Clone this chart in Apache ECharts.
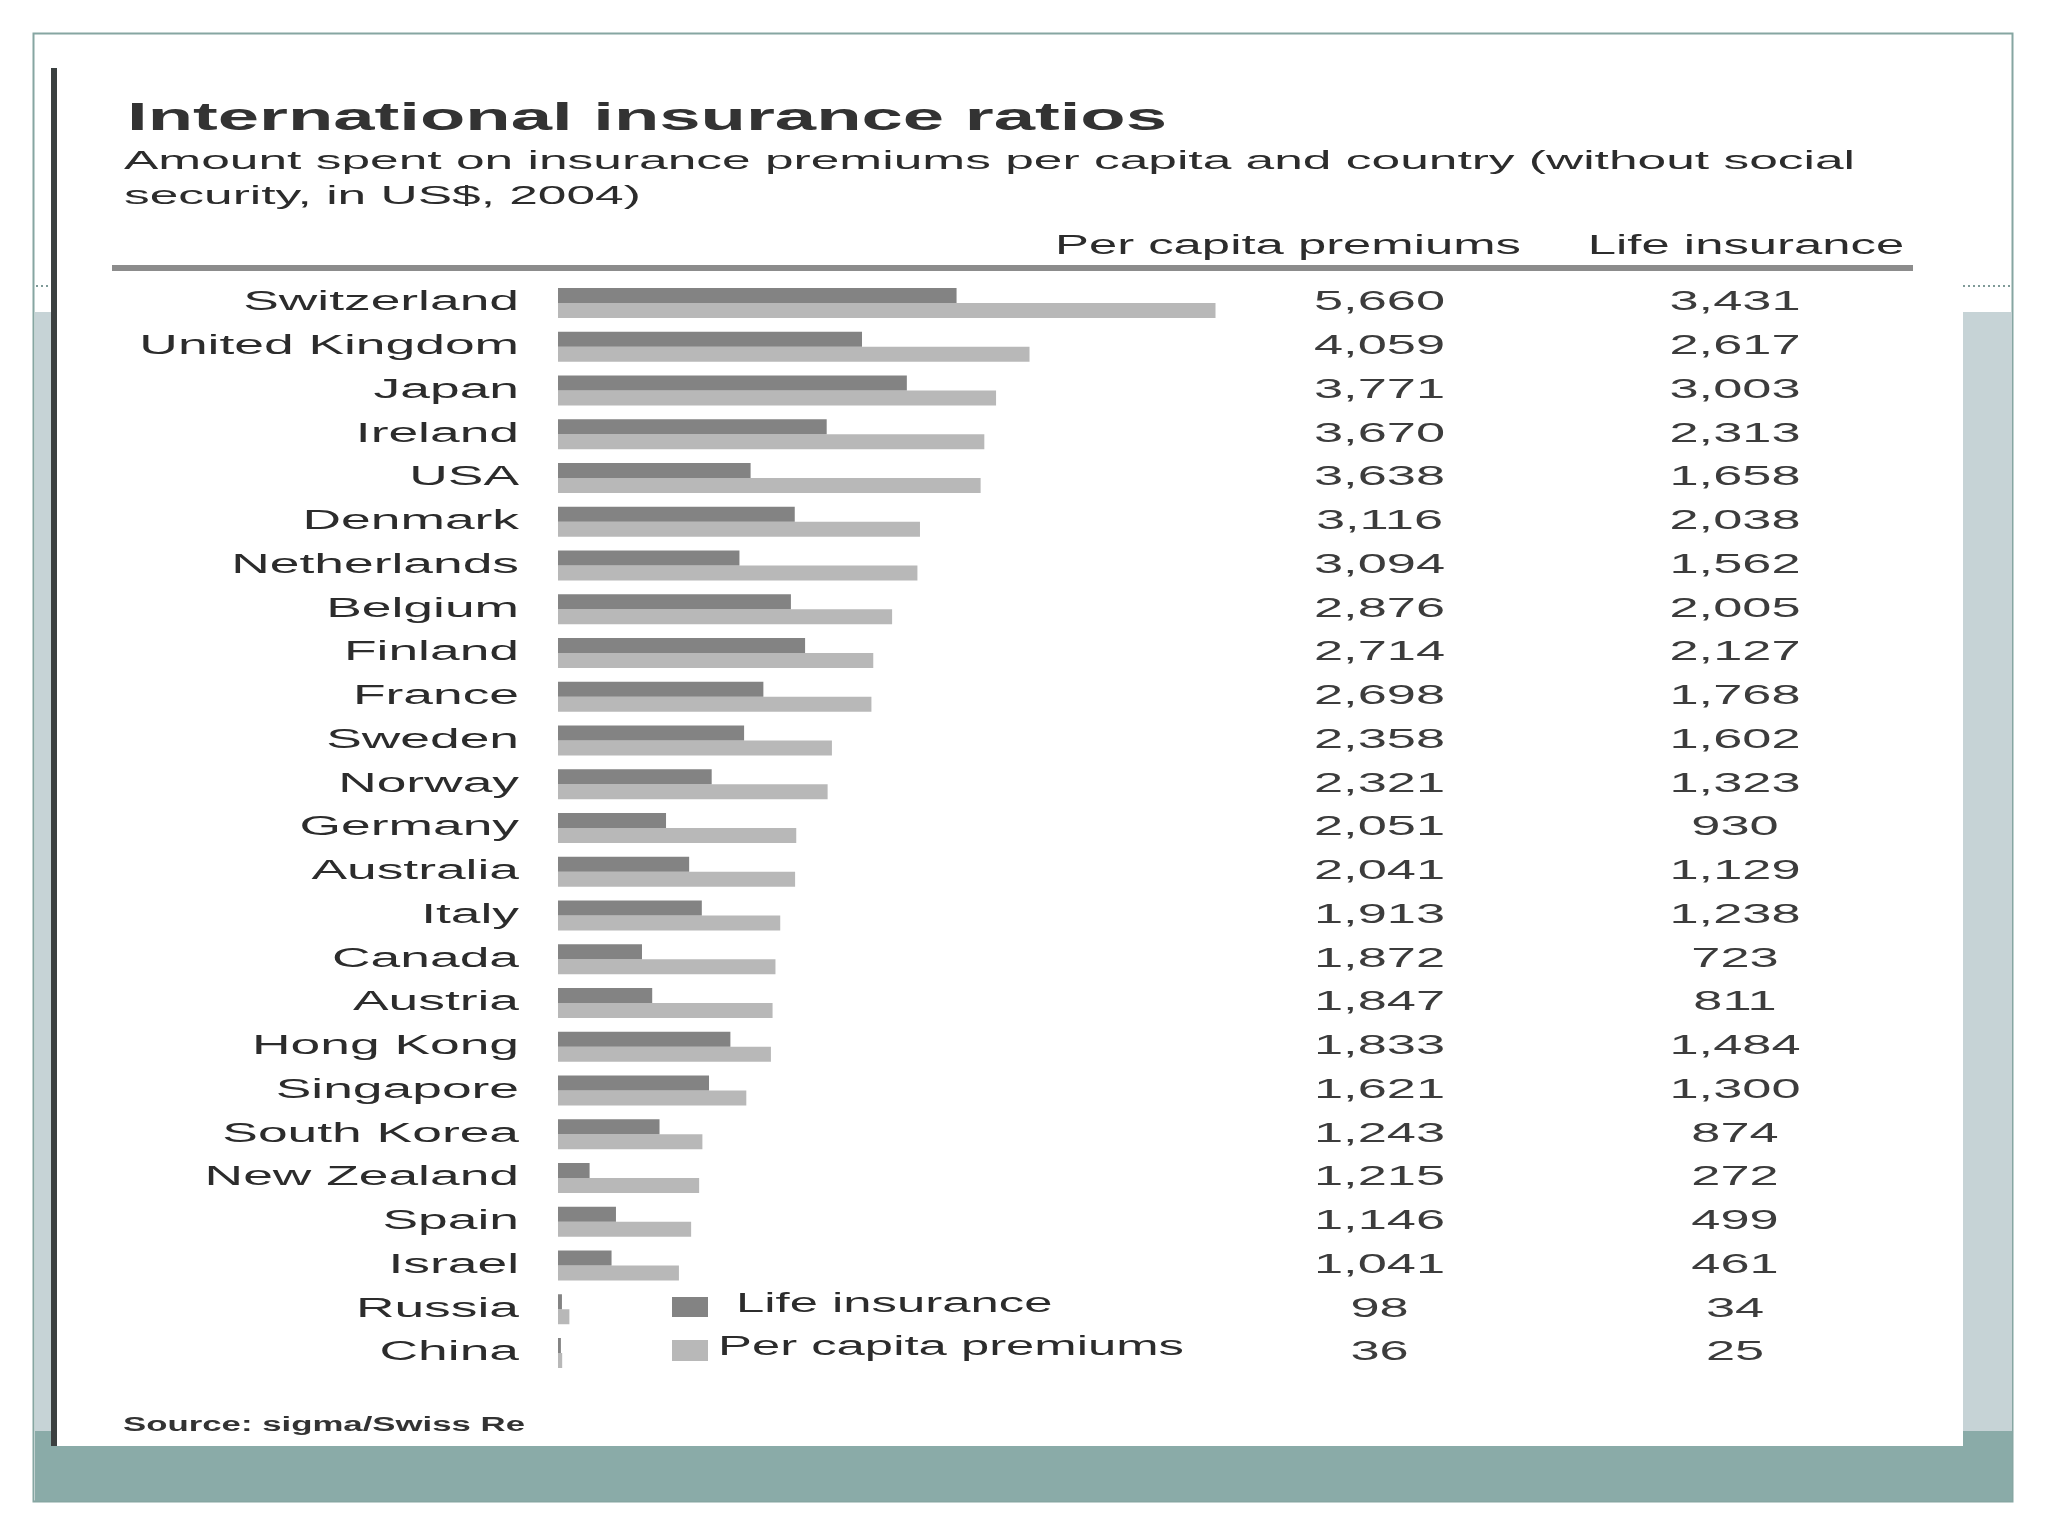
<!DOCTYPE html>
<html>
<head>
<meta charset="utf-8">
<style>
html,body{margin:0;padding:0;background:#fff;}
#chart{width:2048px;height:1536px;}
</style>
<script src="https://cdn.jsdelivr.net/npm/echarts@6/dist/echarts.min.js"></script>
</head>
<body>
<div id="chart"></div>
<script>
// ---- data ----
const countries = ['Switzerland','United Kingdom','Japan','Ireland','USA','Denmark','Netherlands','Belgium','Finland','France','Sweden','Norway','Germany','Australia','Italy','Canada','Austria','Hong Kong','Singapore','South Korea','New Zealand','Spain','Israel','Russia','China'];
const premiums = [5660,4059,3771,3670,3638,3116,3094,2876,2714,2698,2358,2321,2051,2041,1913,1872,1847,1833,1621,1243,1215,1146,1041,98,36];
const lifeIns = [3431,2617,3003,2313,1658,2038,1562,2005,2127,1768,1602,1323,930,1129,1238,723,811,1484,1300,874,272,499,461,34,25];
const seriesNames = ['Life insurance','Per capita premiums'];
const titleText = 'International insurance ratios';
const subtitleLines = ['Amount spent on insurance premiums per capita and country (without social','security, in US$, 2004)'];
const columnHeads = ['Per capita premiums','Life insurance'];
const sourceText = 'Source: sigma/Swiss Re';

// ---- helpers ----
const FAM = '"Liberation Sans", Arial, sans-serif';
const mctx = document.createElement('canvas').getContext('2d');
function textW(t, size, weight){ mctx.font = (weight||'normal') + ' ' + size + 'px ' + FAM; return mctx.measureText(t).width; }
function fitScale(t, size, target, weight){ return target / textW(t, size, weight); }
const fmt = v => v.toLocaleString('en-US');

const DARK = '#838383', LIGHT = '#b8b8b8', TXT = '#2c2c2c';

const sTitle = fitScale(titleText, 39, 1040, 'bold');
const sSub = fitScale(subtitleLines[0], 25, 1731);
const sHead = fitScale(columnHeads[0], 27, 466);
const sCountry = (fitScale('United Kingdom', 27, 367) + fitScale('Switzerland', 27, 285)) / 2;
const sVal = fitScale('5,660', 27, 131);
const sSrc = fitScale(sourceText, 20, 402, 'bold');

function gText(text, x, y, size, scale, align, weight, color){
  return {type:'text', x:x, y:y, scaleX:scale, silent:true, z:5,
    style:{text:text, x:0, y:0, fontSize:size, fontFamily:FAM, fontWeight:weight||'normal',
      fill:color||TXT, align:align||'left', verticalAlign:'middle'}};
}

const chart = echarts.init(document.getElementById('chart'), null, {renderer:'canvas'});

const graphics = [
  // outer slide frame
  {type:'rect', z:0, silent:true, shape:{x:33.5,y:33.5,width:1979,height:1468}, style:{fill:'#ffffff', stroke:'#86a6a2', lineWidth:2}},
  // side bands
  {type:'rect', z:1, silent:true, shape:{x:35,y:312,width:16,height:1119}, style:{fill:'#c6d3d6'}},
  {type:'rect', z:1, silent:true, shape:{x:1963,y:312,width:49,height:1119}, style:{fill:'#c6d3d6'}},
  // bottom band
  {type:'rect', z:1, silent:true, shape:{x:35,y:1431,width:1977,height:70}, style:{fill:'#8aaba8'}},
  // white panel
  {type:'rect', z:2, silent:true, shape:{x:57,y:40,width:1906,height:1406}, style:{fill:'#ffffff'}},
  // dark left rule
  {type:'rect', z:3, silent:true, shape:{x:51,y:68,width:6,height:1378}, style:{fill:'#3b4040'}},
  // dotted guides
  {type:'line', z:3, silent:true, shape:{x1:36,y1:286,x2:51,y2:286}, style:{stroke:'#7f9a98', lineWidth:2, lineDash:[2,3]}},
  {type:'line', z:3, silent:true, shape:{x1:1963,y1:286,x2:2011,y2:286}, style:{stroke:'#7f9a98', lineWidth:2, lineDash:[2,3]}},
  // header rule
  {type:'rect', z:3, silent:true, shape:{x:112,y:265,width:1801,height:6}, style:{fill:'#8c8c8c'}},
  // texts
  gText(titleText, 127, 119, 39, sTitle, 'left', 'bold', '#333'),
  gText(subtitleLines[0], 124, 162.5, 25, sSub, 'left'),
  gText(subtitleLines[1], 124, 197.5, 25, sSub, 'left'),
  gText(columnHeads[0], 1288, 247, 27, sHead, 'center'),
  gText(columnHeads[1], 1746, 247, 27, sHead, 'center'),
  // legend
  {type:'rect', z:5, silent:true, shape:{x:672,y:1297,width:36,height:20}, style:{fill:DARK}},
  {type:'rect', z:5, silent:true, shape:{x:672,y:1340,width:36,height:21}, style:{fill:LIGHT}},
  gText(seriesNames[0], 736, 1305, 27, sHead, 'left'),
  gText(seriesNames[1], 718, 1348, 27, sHead, 'left'),
  gText(sourceText, 123, 1425, 20, sSrc, 'left', 'bold', '#333')
];

const labelData = countries.map((c, i) => [0, i]);

const option = {
  animation:false,
  backgroundColor:'#ffffff',
  graphic:{elements:graphics},
  grid:{left:558, top:281.125, width:697, height:1093.75, containLabel:false},
  xAxis:{type:'value', min:0, max:6000, show:false},
  yAxis:{type:'category', inverse:true, data:countries, show:false},
  series:[
    {name:seriesNames[0], type:'bar', data:lifeIns, barWidth:15, barGap:'0%', itemStyle:{color:DARK}, z:10, silent:true},
    {name:seriesNames[1], type:'bar', data:premiums, barWidth:15, barGap:'0%', itemStyle:{color:LIGHT}, z:9, silent:true},
    {type:'custom', data:labelData, encode:{x:0, y:1}, clip:false, silent:true, z:10,
      renderItem:function(params, api){
        const i = api.value(1);
        const p = api.coord([0, i]);
        const y = p[1];
        return {type:'group', children:[
          {type:'text', x:519, y:y, scaleX:sCountry, style:{text:countries[i], x:0, y:0, fontSize:27, fontFamily:FAM, fill:TXT, align:'right', verticalAlign:'middle'}},
          {type:'text', x:1379.5, y:y, scaleX:sVal, style:{text:fmt(premiums[i]), x:0, y:0, fontSize:27, fontFamily:FAM, fill:'#3c3c3c', align:'center', verticalAlign:'middle'}},
          {type:'text', x:1735, y:y, scaleX:sVal, style:{text:fmt(lifeIns[i]), x:0, y:0, fontSize:27, fontFamily:FAM, fill:'#3c3c3c', align:'center', verticalAlign:'middle'}}
        ]};
      }
    }
  ]
};
chart.setOption(option);
</script>
</body>
</html>
